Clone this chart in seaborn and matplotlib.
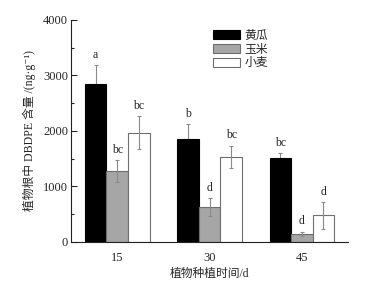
import matplotlib
matplotlib.use("Agg")
import matplotlib.pyplot as plt
import pandas as pd
import seaborn as sns


times = ["15", "30", "45"]
plants = ["黄瓜", "玉米", "小麦"]
cucumber = [2850, 1850, 1505]
corn = [1280, 630, 145]
wheat = [1970, 1530, 480]
cucumber_err = [335, 275, 95]
corn_err = [195, 160, 40]
wheat_err = [295, 205, 240]
letters = [
    ["a", "b", "bc"],
    ["bc", "d", "d"],
    ["bc", "bc", "d"],
]

colors = ["#000000", "#a6a6a6", "#ffffff"]
edges = ["#000000", "#6e6e6e", "#6e6e6e"]

sns.set_theme(style="ticks")
plt.rcParams["font.family"] = ["Liberation Serif", "Noto Sans CJK SC", "DejaVu Serif"]

values = [cucumber, corn, wheat]
errors = [cucumber_err, corn_err, wheat_err]

df = pd.DataFrame({
    "时间": [t for _ in plants for t in times],
    "植物": [p for p in plants for _ in times],
    "含量": [v for series in values for v in series],
})

fig = plt.figure(figsize=(3.68, 2.88), dpi=100)
ax = fig.add_axes([0.193, 0.160, 0.753, 0.771])

sns.barplot(
    data=df,
    x="时间",
    y="含量",
    hue="植物",
    order=times,
    hue_order=plants,
    palette=colors,
    errorbar=None,
    width=0.7,
    gap=0,
    saturation=1,
    ax=ax,
)

bar_containers = list(ax.containers)
for i, container in enumerate(bar_containers):
    for j, bar in enumerate(container):
        bar.set_edgecolor(edges[i])
        bar.set_linewidth(0.8)
        bar.set_zorder(2)
        cx = bar.get_x() + bar.get_width() / 2
        top = bar.get_height()
        ax.errorbar(
            cx, top, yerr=errors[i][j],
            fmt="none", ecolor="#8a8a8a", elinewidth=0.8,
            capsize=1.3, capthick=0.8,
            zorder=1 if i == 0 else 3,
        )
        ax.annotate(
            letters[i][j],
            xy=(cx, top + errors[i][j]),
            xytext=(0, 3),
            textcoords="offset points",
            ha="center", va="bottom",
            fontsize=8.5,
        )

ax.set_xlim(-0.5, 2.5)
ax.set_ylim(0, 4000)
ax.set_yticks([0, 1000, 2000, 3000, 4000])
ax.set_yticks([500, 1500, 2500, 3500], minor=True)
ax.tick_params(axis="y", direction="in", length=4, width=0.8, labelsize=9, pad=2)
ax.tick_params(axis="y", which="minor", direction="in", length=2.5, width=0.8)
ax.tick_params(axis="x", length=0, labelsize=9, pad=7)

for side in ["top", "right"]:
    ax.spines[side].set_visible(False)
for side in ["left", "bottom"]:
    ax.spines[side].set_linewidth(0.8)
    ax.spines[side].set_color("#222222")

ax.set_xlabel("植物种植时间/d", fontsize=8.5, labelpad=3)
ax.set_ylabel("植物根中 DBDPE 含量 /(ng·g⁻¹)", fontsize=8.5, labelpad=5)

handles, labels = ax.get_legend_handles_labels()
for h, ec in zip(handles, edges):
    h.set_edgecolor(ec)
    h.set_linewidth(0.8)
ax.legend(
    handles, labels,
    loc="upper left",
    bbox_to_anchor=(0.513, 0.955),
    frameon=False,
    fontsize=8.5,
    handlelength=2.3,
    handleheight=0.85,
    handletextpad=0.35,
    labelspacing=0.15,
    borderaxespad=0,
    borderpad=0,
)

plt.savefig("out.png", dpi=100)
